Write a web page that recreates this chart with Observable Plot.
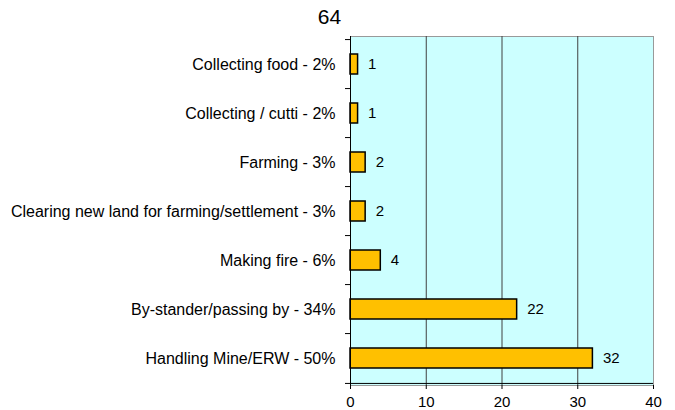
<!DOCTYPE html>
<html>
<head>
<meta charset="utf-8">
<script src="https://cdn.jsdelivr.net/npm/d3@7"></script>
<script src="https://cdn.jsdelivr.net/npm/@observablehq/plot@0.6"></script>
<style>
  html, body { margin: 0; padding: 0; background: #fff; }
  #chart { width: 675px; height: 410px; }
  svg { font-family: "Liberation Sans", Arial, sans-serif; }
</style>
</head>
<body>
<div id="chart"></div>
<script>
const title = "64";
const categories = [
  "Collecting food - 2%",
  "Collecting / cutti - 2%",
  "Farming - 3%",
  "Clearing new land for farming/settlement - 3%",
  "Making fire - 6%",
  "By-stander/passing by - 34%",
  "Handling Mine/ERW - 50%"
];
const values = [1, 1, 2, 2, 4, 22, 32];
const xTicks = [0, 10, 20, 30, 40];

const data = categories.map((c, i) => ({category: c, value: values[i]}));

const W = 675, H = 410, mT = 36, mB = 25, mL = 350, mR = 22;
const step = (H - mT - mB) / categories.length;

const chart = Plot.plot({
  width: W,
  height: H,
  marginTop: mT,
  marginBottom: mB,
  marginLeft: mL,
  marginRight: mR,
  style: {fontFamily: '"Liberation Sans", Arial, sans-serif', fontSize: "16px", color: "black", background: "white"},
  x: {domain: [0, 40]},
  y: {domain: categories, paddingInner: 0.6, paddingOuter: 0.3},
  marks: [
    Plot.frame({fill: "#CCFFFF", stroke: "#999999"}),
    Plot.ruleX([10, 20, 30], {stroke: "#404040", strokeWidth: 1}),
    Plot.barX(data, {x: "value", y: "category", fill: "#FFC000", stroke: "black", strokeWidth: 1.5}),
    Plot.text(data, {x: "value", y: "category", text: d => String(d.value), textAnchor: "start", dx: 10, fontSize: 15, fill: "black"}),
    Plot.ruleX([0], {stroke: "black"}),
    Plot.ruleY([categories[categories.length - 1]], {dy: step / 2, stroke: "black"}),
    Plot.axisX({ticks: xTicks, tickSize: 4, tickPadding: 7, tickFormat: d => String(d), fontSize: 15, label: null}),
    Plot.axisY({tickSize: 0, tickPadding: 15, label: null, fontSize: 16}),
    Plot.axisY({tickSize: 5, tickFormat: () => "", dy: -step / 2, label: null}),
    Plot.axisY({ticks: [categories[categories.length - 1]], tickSize: 5, tickFormat: () => "", dy: step / 2, label: null}),
    Plot.text([title], {frameAnchor: "top-left", dx: -21, dy: -13, lineAnchor: "bottom", textAnchor: "middle", text: d => d, fontSize: 21, fill: "black"})
  ]
});
document.getElementById("chart").appendChild(chart);
</script>
</body>
</html>
